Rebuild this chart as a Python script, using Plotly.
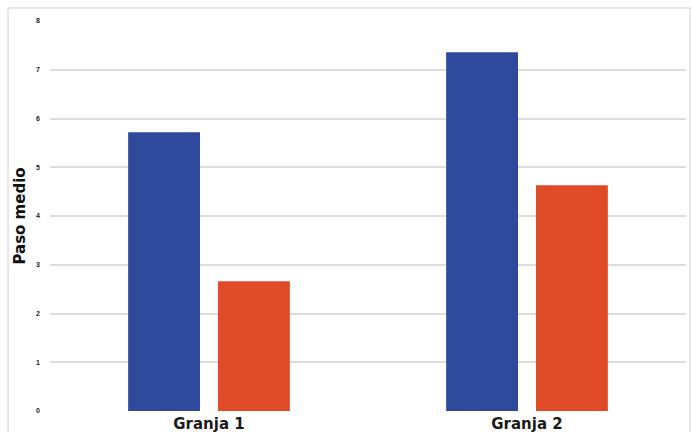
import plotly.graph_objects as go

categories = ["Granja 1", "Granja 2"]
serie_a = [5.72, 7.36]
serie_b = [2.66, 4.63]
y_ticks = [0, 1, 2, 3, 4, 5, 6, 7, 8]

W, H = 692, 432
L, R, T, B = 50, 6, 21, 21

fig = go.Figure()
fig.add_trace(go.Bar(x=categories, y=serie_a, marker=dict(color="#2F4A9C", line=dict(width=0)), name="A"))
fig.add_trace(go.Bar(x=categories, y=serie_b, marker=dict(color="#DF4A27", line=dict(width=0)), name="B"))

pw = W - L - R
ph = H - T - B
fig.add_shape(type="rect", xref="paper", yref="paper",
              x0=(8 - L) / pw, x1=(690 - L) / pw,
              y0=-0.2, y1=(H - B - 8) / ph,
              line=dict(color="#d0d0d0", width=1), fillcolor="rgba(0,0,0,0)", layer="below")

bold_font = "DejaVu Sans, Liberation Sans, Arial, sans-serif"

fig.update_layout(
    width=W, height=H,
    margin=dict(l=L, r=R, t=T, b=B, pad=0),
    paper_bgcolor="white", plot_bgcolor="white",
    barmode="group", bargap=0.435, bargroupgap=0.2,
    showlegend=False,
    font=dict(family="Liberation Sans, Arial, sans-serif", color="#222"),
    xaxis=dict(showgrid=False, showline=False, zeroline=False, ticks="", automargin=False,
               tickfont=dict(size=15, color="#1a1a1a", family=bold_font, weight="bold"),
               ticklabelstandoff=2),
    yaxis=dict(range=[0, 8], tickvals=y_ticks, showgrid=True, gridcolor="#dcdcdc", gridwidth=2,
               zeroline=False, showline=False, ticks="", automargin=False,
               tickfont=dict(size=7, color="#222", weight="bold"),
               ticklabelstandoff=9,
               title=dict(text="Paso medio", standoff=6,
                          font=dict(size=15, color="#111", family=bold_font, weight="bold"))),
)

fig.write_html("out.html")
